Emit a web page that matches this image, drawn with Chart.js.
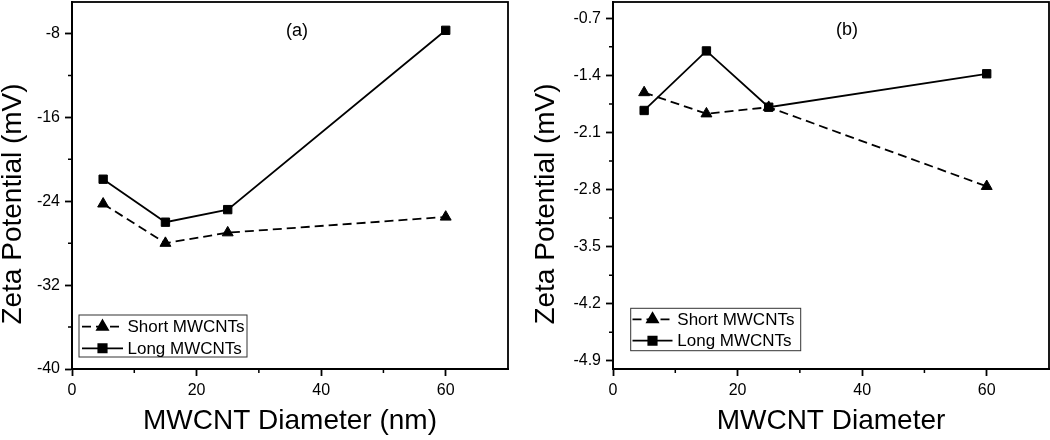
<!DOCTYPE html>
<html>
<head>
<meta charset="utf-8">
<script src="https://cdn.jsdelivr.net/npm/chart.js@4.4.1/dist/chart.umd.min.js"></script>
<style>
html,body{margin:0;padding:0;background:#fff;}
#wrap{position:relative;width:1050px;height:440px;}
.panel{position:absolute;top:0;width:525px;height:440px;}
</style>
</head>
<body>
<div id="wrap">
<div class="panel" style="left:0"><canvas id="chartA" width="525" height="440"></canvas></div>
<div class="panel" style="left:525px"><canvas id="chartB" width="525" height="440"></canvas></div>
</div>
<script>
// values
const diameters = [5, 15, 25, 60];
const shortA = [-24.25, -28.0, -27.0, -25.5];
const longA = [-21.9, -26.0, -24.8, -7.7];
const shortB = [-1.61, -1.87, -1.79, -2.76];
const longB = [-1.83, -1.10, -1.79, -1.38];

const seriesNames = ["Short MWCNTs", "Long MWCNTs"];

const xTicks = [0, 20, 40, 60];
const xMinor = [10, 30, 50];
const yTicksA = [-40, -32, -24, -16, -8];
const yLabelsA = ["-40", "-32", "-24", "-16", "-8"];
const yMinorA = [-36, -28, -20, -12];
const yTicksB = [-4.9, -4.2, -3.5, -2.8, -2.1, -1.4, -0.7];
const yLabelsB = ["-4.9", "-4.2", "-3.5", "-2.8", "-2.1", "-1.4", "-0.7"];
const yMinorB = [-4.55, -3.85, -3.15, -2.45, -1.75, -1.05];

const FONT = "'Liberation Sans', Arial, sans-serif";

function pts(ys){
  return diameters.map((x,i)=>({x:x, y:ys[i]}));
}

// frame, minor ticks, y title, panel label and boxed legend
const decor = {
  id:"decor",
  afterDraw(chart, args, o){
    const ctx = chart.ctx;
    const a = chart.chartArea;
    const sx = chart.scales.x, sy = chart.scales.y;
    ctx.save();
    ctx.strokeStyle = "#000";
    ctx.lineWidth = 1.8;
    ctx.strokeRect(a.left, a.top, a.right-a.left, a.bottom-a.top);

    // minor ticks
    ctx.lineWidth = 1.5;
    ctx.beginPath();
    o.xMinor.forEach(v=>{
      const p = sx.getPixelForValue(v);
      ctx.moveTo(p, a.bottom); ctx.lineTo(p, a.bottom+4);
    });
    o.yMinor.forEach(v=>{
      const p = sy.getPixelForValue(v);
      ctx.moveTo(a.left, p); ctx.lineTo(a.left-4, p);
    });
    ctx.stroke();

    // y title
    ctx.fillStyle = "#000";
    ctx.font = "28px " + FONT;
    ctx.textAlign = "center";
    ctx.textBaseline = "middle";
    ctx.save();
    ctx.translate(o.yTitleX, 204);
    ctx.rotate(-Math.PI/2);
    ctx.fillText("Zeta Potential (mV)", 0, 0);
    ctx.restore();

    // panel label
    ctx.font = "18px " + FONT;
    ctx.fillText(o.panel, o.panelX, o.panelY);

    // legend
    const L = o.legend;
    ctx.lineWidth = 1;
    ctx.strokeStyle = "#333";
    ctx.strokeRect(L.x, L.y, L.w, L.h);
    ctx.font = "17px " + FONT;
    ctx.textAlign = "left";
    chart.data.datasets.forEach((ds,i)=>{
      const y = L.rows[i];
      ctx.strokeStyle = "#000";
      ctx.lineWidth = ds.borderWidth;
      ctx.setLineDash(ds.borderDash || []);
      ctx.beginPath();
      ctx.moveTo(L.s0, y); ctx.lineTo(L.s1, y);
      ctx.stroke();
      ctx.setLineDash([]);
      ctx.fillStyle = "#000";
      Chart.helpers.drawPoint(ctx, {pointStyle:ds.pointStyle, radius:ds.pointRadius, rotation:0, borderWidth:1}, (L.s0+L.s1)/2, y);
      ctx.fillStyle = "#000";
      ctx.fillText(ds.label, L.tx, y+1);
    });
    ctx.restore();
  }
};

function makeChart(id, sData, lData, yMin, yMax, yTicks, yLabels, yMinor, xTitle, yWidth, padRight, deco){
  return new Chart(document.getElementById(id),{
    type:"line",
    data:{
      datasets:[{
        label:seriesNames[0],
        data:pts(sData),
        borderColor:"#000",
        backgroundColor:"#000",
        borderWidth:1.8,
        borderDash:[9,5],
        pointStyle:"triangle",
        pointRadius:6.3,
        pointBorderWidth:1,
        tension:0
      },{
        label:seriesNames[1],
        data:pts(lData),
        borderColor:"#000",
        backgroundColor:"#000",
        borderWidth:1.8,
        pointStyle:"rect",
        pointRadius:5.9,
        pointBorderWidth:1,
        tension:0
      }]
    },
    options:{
      responsive:false,
      animation:false,
      layout:{autoPadding:false, padding:{top:2, right:padRight, left:0, bottom:0}},
      plugins:{
        legend:{display:false},
        tooltip:{enabled:false},
        decor:deco
      },
      scales:{
        x:{
          type:"linear",
          min:0, max:70,
          afterBuildTicks:s=>{ s.ticks = xTicks.map(v=>({value:v})); },
          afterFit:s=>{ s.height = 71; s.paddingLeft = 0; s.paddingRight = 0; },
          grid:{drawOnChartArea:false, drawTicks:true, tickLength:7, tickWidth:1.8, tickColor:"#000"},
          border:{display:true, color:"#000", width:2},
          ticks:{color:"#000", font:{family:FONT, size:16}, padding:5, maxRotation:0},
          title:{display:true, text:xTitle, color:"#000", font:{family:FONT, size:28, lineHeight:1}, padding:{top:0, bottom:5}}
        },
        y:{
          type:"linear",
          min:yMin, max:yMax,
          afterBuildTicks:s=>{ s.ticks = yTicks.map(v=>({value:v})); },
          afterFit:s=>{ s.width = yWidth; s.paddingTop = 0; s.paddingBottom = 0; },
          grid:{drawOnChartArea:false, drawTicks:true, tickLength:7, tickWidth:1.8, tickColor:"#000"},
          border:{display:true, color:"#000", width:2},
          ticks:{color:"#000", font:{family:FONT, size:16}, padding:5, callback:(v,i)=>yLabels[i]}
        }
      }
    },
    plugins:[decor]
  });
}

makeChart("chartA", shortA, longA, -40, -5, yTicksA, yLabelsA, yMinorA, "MWCNT Diameter (nm)", 72, 17, {
  xMinor:xMinor, yMinor:yMinorA, yTitleX:13, panel:"(a)", panelX:297, panelY:31.5,
  legend:{x:79, y:315, w:168, h:42, rows:[326.7, 348.3], s0:82, s1:123, tx:127.5}
});

makeChart("chartB", shortB, longB, -5, -0.5, yTicksB, yLabelsB, yMinorB, "MWCNT Diameter", 88, 1, {
  xMinor:xMinor, yMinor:yMinorB, yTitleX:21.7, panel:"(b)", panelX:322, panelY:30,
  legend:{x:105.7, y:308.3, w:170, h:42.4, rows:[319.3, 340.7], s0:107.5, s1:147.5, tx:152.3}
});
</script>
</body>
</html>
